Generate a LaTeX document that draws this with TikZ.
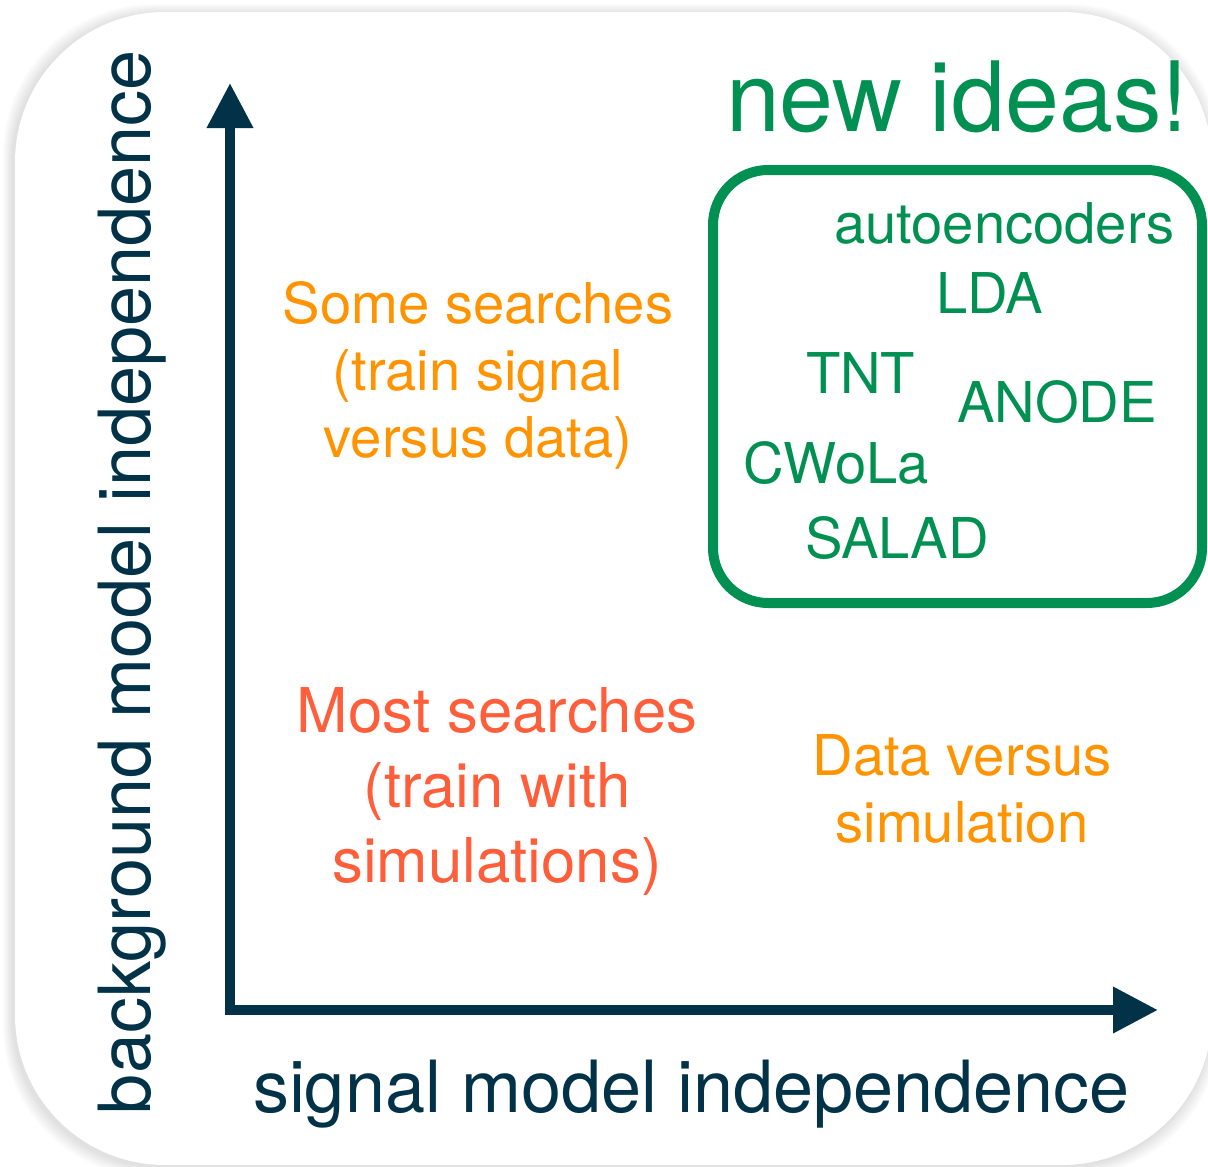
\documentclass[tikz,border=0pt]{standalone}
\usepackage{fontspec}
\setmainfont{TeX Gyre Heros}
\usetikzlibrary{arrows.meta}
\definecolor{navy}{RGB}{1,50,72}
\definecolor{idgreen}{RGB}{0,144,81}
\definecolor{lightorange}{RGB}{255,147,0}
\definecolor{redorange}{RGB}{255,94,58}
\tikzset{
  txt/.style={inner sep=0pt, outer sep=0pt},
  axis/.style={draw=navy, line width=10pt, line join=miter, {Triangle[length=45pt,width=44pt]}-{Triangle[length=45pt,width=44pt]}},
  mid/.style={txt, font=\fontsize{56.2}{67}\selectfont},
  big/.style={txt, font=\fontsize{61.7}{75}\selectfont},
  axlabel/.style={txt, text=navy, font=\fontsize{72}{86}\selectfont},
  idea/.style={mid, text=idgreen, anchor=base west},
  ideabox/.style={draw=idgreen, line width=10pt, rounded corners=55pt}
}
\begin{document}
\begin{tikzpicture}[x=1pt,y=-1pt]
\useasboundingbox (0,0) rectangle (1208,1167);
\fill[white] (0,0) rectangle (1208,1167);
% shadow of frame
\foreach \i in {1,...,10} {
  \fill[black, opacity=0.012, rounded corners=150pt] (15-\i-2,12-\i+2) rectangle (1212+\i-2,1165+\i+2);
}
\fill[white, rounded corners=150pt] (15,12) rectangle (1212,1165);
% axes
\coordinate (ytop) at (230,83);
\coordinate (origin) at (230,1010);
\coordinate (xend) at (1158,1010);
\draw[axis] (ytop) -- (origin) -- (xend);
\node[axlabel, anchor=base west] (xlab) at (253,1112) {signal model independence};
\node[axlabel, anchor=base west, rotate=90] (ylab) at (150,1114) {background model independence};
% regions (anchor at baseline of last line)
\node[mid, text=lightorange, align=center, anchor=base] (some) at (478,457) {Some searches\\(train signal\\versus data)};
\node[big, text=redorange, align=center, anchor=base] (most) at (497,882) {Most searches\\(train with\\simulations)};
\node[mid, text=lightorange, align=center, anchor=base] (data) at (962,842) {Data versus\\simulation};
% new ideas
\node[txt, text=idgreen, font=\fontsize{97}{110}\selectfont, anchor=base west] (title) at (726,131) {new ideas!};
\draw[ideabox] (713,170) rectangle (1202,603);
\node[idea] (ae) at (834,243) {autoencoders};
\node[idea] (lda) at (936,313) {LDA};
\node[idea] (tnt) at (806,393) {TNT};
\node[idea] (anode) at (957,422) {ANODE};
\node[idea] (cwola) at (743,483) {CWoLa};
\node[idea] (salad) at (805,558) {SALAD};
\end{tikzpicture}
\end{document}
